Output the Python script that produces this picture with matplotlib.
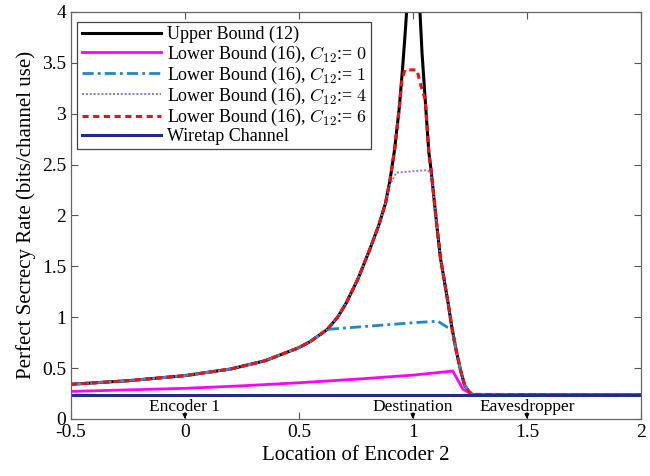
import numpy as np
import matplotlib
matplotlib.use('Agg')
import matplotlib.pyplot as plt

plt.rcParams['font.family'] = ['Liberation Serif', 'DejaVu Serif']
plt.rcParams['mathtext.fontset'] = 'cm'

# upper bound (12)
upper_x = [-0.5, -0.25, 0.0, 0.2, 0.35, 0.5, 0.55, 0.625, 0.67, 0.708, 0.76, 0.81, 0.85,
           0.88, 0.9, 0.92, 0.94, 0.955, 0.968, 0.978, 1.0, 1.03, 1.04, 1.054, 1.07,
           1.08, 1.092, 1.105, 1.121, 1.14, 1.155, 1.171, 1.19, 1.21, 1.227, 1.245,
           1.26, 2.0]
upper_y = [0.34, 0.375, 0.425, 0.49, 0.57, 0.70, 0.76, 0.88, 1.0, 1.14, 1.38, 1.66, 1.9,
           2.12, 2.35, 2.65, 3.05, 3.45, 3.85, 4.2, 6.0, 4.05, 3.6, 3.14, 2.62,
           2.44, 2.18, 1.9, 1.58, 1.33, 1.13, 0.9, 0.67, 0.47, 0.33, 0.27,
           0.24, 0.235]

# lower bound (16), C12 = 0
c0_x = [-0.5, -0.25, 0.0, 0.25, 0.5, 0.75, 1.0, 1.175, 1.22, 1.263, 2.0]
c0_y = [0.27, 0.285, 0.30, 0.325, 0.355, 0.39, 0.43, 0.47, 0.29, 0.24, 0.235]

# lower bound (16), C12 = 1
c1_x = [-0.5, -0.25, 0.0, 0.2, 0.35, 0.5, 0.55, 0.625, 0.8, 1.0, 1.11, 1.171,
        1.19, 1.21, 1.227, 1.245, 1.26, 2.0]
c1_y = [0.34, 0.375, 0.425, 0.49, 0.57, 0.70, 0.76, 0.88, 0.91, 0.945, 0.96, 0.87,
        0.67, 0.47, 0.33, 0.27, 0.24, 0.235]

# lower bound (16), C12 = 4
c4_x = [-0.5, -0.25, 0.0, 0.2, 0.35, 0.5, 0.55, 0.625, 0.67, 0.708, 0.76, 0.81, 0.85,
        0.88, 0.895, 0.927, 1.059, 1.08, 1.092, 1.105, 1.121, 1.14, 1.155, 1.171,
        1.19, 1.21, 1.227, 1.245, 1.26, 2.0]
c4_y = [0.34, 0.375, 0.425, 0.49, 0.57, 0.70, 0.76, 0.88, 1.0, 1.14, 1.38, 1.66, 1.9,
        2.12, 2.28, 2.42, 2.445, 2.42, 2.18, 1.9, 1.58, 1.33, 1.13, 0.9,
        0.67, 0.47, 0.33, 0.27, 0.24, 0.235]

# lower bound (16), C12 = 6
c6_x = [-0.5, -0.25, 0.0, 0.2, 0.35, 0.5, 0.55, 0.625, 0.67, 0.708, 0.76, 0.81, 0.85,
        0.88, 0.9, 0.92, 0.94, 0.952, 0.965, 1.018, 1.032, 1.054, 1.07, 1.08, 1.092,
        1.105, 1.121, 1.14, 1.155, 1.171, 1.19, 1.21, 1.227, 1.245, 1.26, 2.0]
c6_y = [0.34, 0.375, 0.425, 0.49, 0.57, 0.70, 0.76, 0.88, 1.0, 1.14, 1.38, 1.66, 1.9,
        2.12, 2.35, 2.65, 3.05, 3.33, 3.43, 3.43, 3.3, 3.14, 2.62, 2.44, 2.18,
        1.9, 1.58, 1.33, 1.13, 0.9, 0.67, 0.47, 0.33, 0.27, 0.24, 0.235]

# wiretap channel
wt_x = [-0.5, 2.0]
wt_y = [0.235, 0.235]

node_names = ['Encoder 1', 'Destination', 'Eavesdropper']
node_pos = [0.0, 1.0, 1.5]

fig = plt.figure(figsize=(6.5, 4.76), dpi=100)
ax = fig.add_axes([0.109, 0.12, 0.877, 0.855])

ax.plot(upper_x, upper_y, color='black', lw=2.2, label='Upper Bound (12)')
ax.plot(c0_x, c0_y, color='#ff00ff', lw=2.0, label=r'Lower Bound (16), $C_{12}$:= $0$')
ax.plot(c1_x, c1_y, color='#1f88c8', lw=2.0, ls=(0, (4, 1.5, 1, 1.5)),
        label=r'Lower Bound (16), $C_{12}$:= $1$')
ax.plot(c4_x, c4_y, color='#7a7af0', lw=1.4, ls=(0, (1, 1)),
        label=r'Lower Bound (16), $C_{12}$:= $4$')
ax.plot(c6_x, c6_y, color='#ee1111', lw=2.2, ls=(0, (2, 1.5)),
        label=r'Lower Bound (16), $C_{12}$:= $6$')
ax.plot(wt_x, wt_y, color='#1f2d8a', lw=2.2, label='Wiretap Channel')

for name, xp in zip(node_names, node_pos):
    ax.annotate('', xy=(xp, 0.0), xytext=(xp, 0.06),
                arrowprops=dict(arrowstyle='-|>', color='black', lw=0.8,
                                mutation_scale=7, shrinkA=0, shrinkB=0))
    ax.text(xp, 0.115, name, ha='center', va='center', fontsize=12.5)

ax.set_xlim(-0.5, 2)
ax.set_ylim(0, 4)
ax.set_xticks([-0.5, 0, 0.5, 1, 1.5, 2])
ax.set_yticks(np.arange(0, 4.01, 0.5))
ax.xaxis.set_major_formatter(matplotlib.ticker.FormatStrFormatter('%g'))
ax.yaxis.set_major_formatter(matplotlib.ticker.FormatStrFormatter('%g'))
ax.tick_params(direction='in', top=True, right=True, labelsize=14, length=5,
               color='#555555')
for s in ax.spines.values():
    s.set_color('#666666')
    s.set_linewidth(0.9)

ax.set_xlabel('Location of Encoder 2', fontsize=15)
ax.set_ylabel('Perfect Secrecy Rate (bits/channel use)', fontsize=15)

leg = ax.legend(loc='upper left', bbox_to_anchor=(0.005, 0.985), fontsize=13,
                handlelength=4.4, handletextpad=0.3, labelspacing=0.0,
                borderpad=0.25, fancybox=False, framealpha=1, borderaxespad=0.2)
leg.get_frame().set_edgecolor('#444444')
leg.get_frame().set_linewidth(0.9)

fig.savefig('out.png', dpi=100)
